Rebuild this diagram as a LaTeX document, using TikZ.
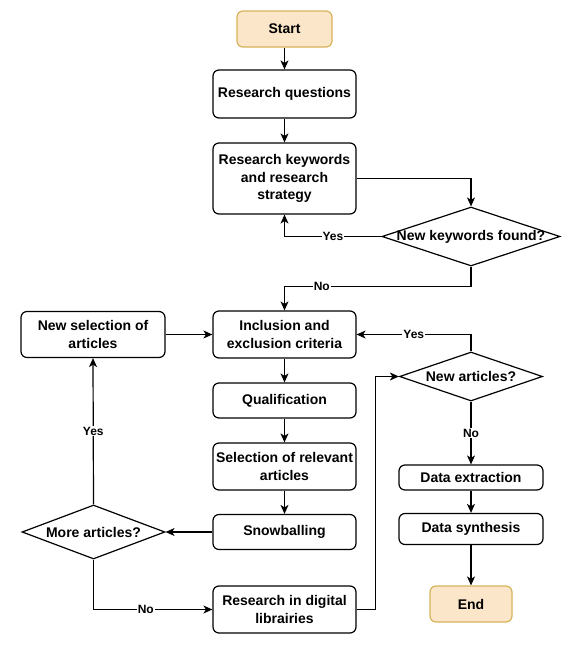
\documentclass[tikz,border=0pt]{standalone}
\usepackage{fontspec}
\setmainfont{Liberation Sans}
\usetikzlibrary{shapes.geometric,arrows.meta}
\pgfdeclarelayer{bg}
\pgfsetlayers{bg,main}
\definecolor{termfill}{HTML}{FCE6CA}
\definecolor{termline}{HTML}{D6B35A}
\tikzset{
        boxtext/.style={font=\bfseries\fontsize{14}{17.5}\selectfont},
        stepbox/.style={draw, rounded corners=6pt, line width=1.2pt, inner sep=0pt,
                minimum width=143pt, align=center, boxtext},
        termbox/.style={stepbox, fill=termfill, draw=termline},
        decision/.style={draw, diamond, line width=1.2pt, inner sep=0pt},
        lbl/.style={fill=white, inner sep=1pt, font=\bfseries\fontsize{12}{14}\selectfont},
        flow/.style={line width=1.2pt, -{Stealth[length=9pt,width=8pt,inset=2.5pt]}}
}

\begin{document}
\begin{tikzpicture}[x=1pt, y=-1pt]
        \useasboundingbox (0,0) rectangle (576,646);
        \node (start) [termbox, minimum width=95pt, minimum height=36pt] at (284.5, 29) {Start};
        \node (rq) [stepbox, minimum height=48pt] at (284.5, 94) {Research questions};
        \node (rk) [stepbox, minimum height=71pt] at (284.5, 178.5) {Research keywords\\and research\\strategy};
        \node (nkf) [decision, minimum width=178pt, minimum height=59pt,
                label={[boxtext]center:New keywords found?}] at (471, 236.5) {};
        \node (nsel) [stepbox, minimum width=144pt, minimum height=46pt] at (93, 334.5) {New selection of\\articles};
        \node (incl) [stepbox, minimum height=47pt] at (284.5, 334.5) {Inclusion and\\exclusion criteria};
        \node (nart) [decision, minimum width=143pt, minimum height=49pt,
                label={[boxtext]center:New articles?}] at (471, 376.5) {};
        \node (qual) [stepbox, minimum height=35pt] at (284.5, 400.5) {Qualification};
        \node (selrel) [stepbox, minimum height=47pt] at (284.5, 466.5) {Selection of relevant\\articles};
        \node (snow) [stepbox, minimum height=35pt] at (284.5, 532) {Snowballing};
        \node (more) [decision, minimum width=143pt, minimum height=54pt,
                label={[boxtext]center:More articles?}] at (93.5, 532) {};
        \node (rdl) [stepbox, minimum height=47pt] at (284.5, 609.5) {Research in digital\\librairies};
        \node (dext) [stepbox, minimum width=144pt, minimum height=25pt] at (471, 477.5) {Data extraction};
        \node (dsyn) [stepbox, minimum width=144pt, minimum height=31pt] at (471, 529) {Data synthesis};
        \node (end) [termbox, minimum width=82pt, minimum height=36pt] at (471, 604) {End};
        \begin{pgfonlayer}{bg}
                \draw[flow] (start) -- (rq);
                \draw[flow] (rq) -- (rk);
                \draw[flow] (rk.east) -| (nkf.north);
                \draw[flow] (nkf.west) -| node[lbl, pos=0.25] {Yes} (rk.south);
                \draw[flow] (nkf.south) -- ++(0,20) -| node[lbl, pos=0.4] {No} (incl.north);
                \draw[flow] (nsel.east) -- (incl.west);
                \draw[flow] (incl) -- (qual);
                \draw[flow] (qual) -- (selrel);
                \draw[flow] (selrel) -- (snow);
                \draw[flow] (snow.west) -- (more.east);
                \draw[flow] (more.north) -- node[lbl] {Yes} (nsel.south);
                \draw[flow] (more.south) |- node[lbl, pos=0.72] {No} (rdl.west);
                \draw[flow] (rdl.east) -- ++(19,0) |- (nart.west);
                \draw[flow] (nart.north) |- node[lbl, pos=0.75] {Yes} (incl.east);
                \draw[flow] (nart.south) -- node[lbl] {No} (dext.north);
                \draw[flow] (dext) -- (dsyn);
                \draw[flow] (dsyn) -- (end);
        \end{pgfonlayer}
\end{tikzpicture}
\end{document}
